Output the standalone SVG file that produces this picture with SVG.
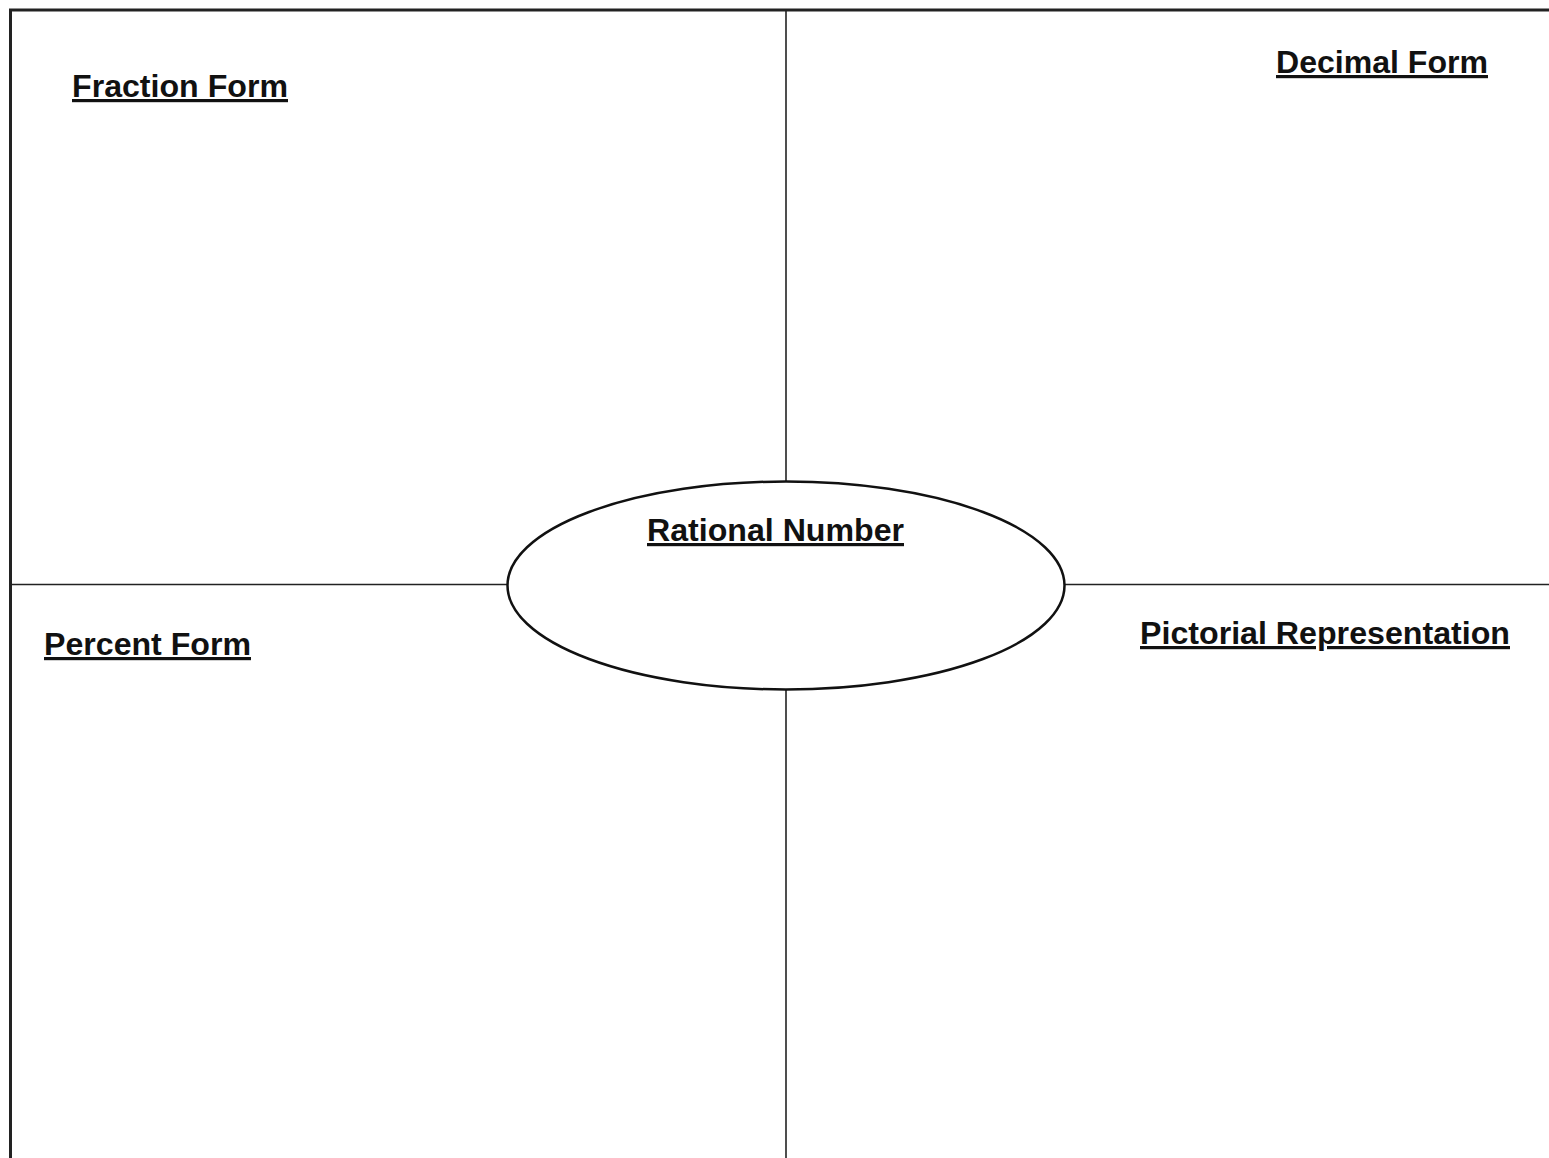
<svg xmlns="http://www.w3.org/2000/svg" width="1549" height="1158" viewBox="0 0 1549 1158">
<style>
.lbl{font-family:"Liberation Sans",Arial,sans-serif;font-weight:bold;font-size:32px;fill:#111;text-decoration:underline;}
.frame{fill:none;stroke:#222;stroke-width:3;}
.div{stroke:#222;stroke-width:1.6;fill:none;}
</style>
<rect width="1549" height="1158" fill="#fff"/>
<g id="connectors">
<path class="frame" d="M10.5,1160 V10 H1552"/>
<line class="div" x1="786" y1="10" x2="786" y2="482"/>
<line class="div" x1="786" y1="689" x2="786" y2="1160"/>
<line class="div" x1="10" y1="584.5" x2="507" y2="584.5"/>
<line class="div" x1="1065" y1="584.5" x2="1552" y2="584.5"/>
</g>
<g id="fraction"><text class="lbl" x="72" y="97" textLength="216" lengthAdjust="spacingAndGlyphs">Fraction Form</text></g>
<g id="decimal"><text class="lbl" x="1276" y="73" textLength="212" lengthAdjust="spacingAndGlyphs">Decimal Form</text></g>
<g id="percent"><text class="lbl" x="44" y="655" textLength="207" lengthAdjust="spacingAndGlyphs">Percent Form</text></g>
<g id="pictorial"><text class="lbl" x="1140" y="644" textLength="370" lengthAdjust="spacingAndGlyphs">Pictorial Representation</text></g>
<g id="rational">
<ellipse cx="786" cy="585.5" rx="278.5" ry="104" fill="#fff" stroke="#111" stroke-width="2.5"/>
<text class="lbl" x="647" y="541" textLength="257" lengthAdjust="spacingAndGlyphs">Rational Number</text>
</g>
</svg>
